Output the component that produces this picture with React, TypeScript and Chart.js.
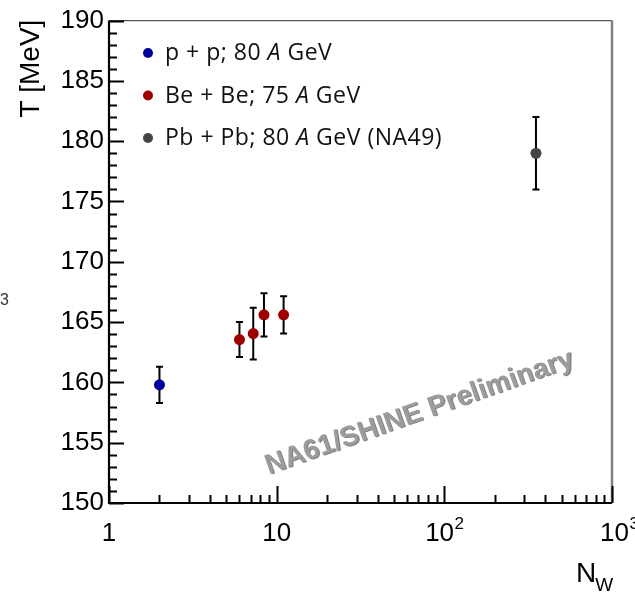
import React, { useEffect, useRef } from 'react';
import { Chart, registerables } from 'chart.js';
Chart.register(...registerables);

// ---- data ----
const ppN = [2.0];
const ppT = [159.8];
const ppErr = [1.5];

const beN = [6.0, 7.25, 8.4, 11.0];
const beT = [163.55, 164.05, 165.6, 165.6];
const beErr = [1.45, 2.15, 1.8, 1.55];

const pbN = [352];
const pbT = [179.0];
const pbErr = [3.0];

const legendLabels = [
  ['p + p; 80 ', 'A', ' GeV'],
  ['Be + Be; 75 ', 'A', ' GeV'],
  ['Pb + Pb; 80 ', 'A', ' GeV (NA49)'],
];
const seriesColors = ['#00009c', '#9e0000', '#454545'];
const xMajorValues = [1, 10, 100, 1000];
const xTickLabels = [['1', ''], ['10', ''], ['10', '2'], ['10', '3']];
const yTitle = 'T [MeV]';
const xTitleMain = 'N';
const xTitleSub = 'W';
const watermark = 'NA61/SHINE Preliminary';
const strayText = '3';

const FONT = '"Liberation Sans", Arial, sans-serif';
const LFONT = '"Open Sans", "Noto Sans", sans-serif';

const decor = {
  id: 'decor',
  beforeDatasetsDraw(chart: any) {
    const ctx = chart.ctx;
    const xs = chart.scales.x;
    const ys = chart.scales.y;
    ctx.save();
    ctx.strokeStyle = '#000';
    ctx.lineWidth = 2;
    chart.data.datasets.forEach((ds: any) => {
      ds.data.forEach((p: any, i: number) => {
        const e = ds.err[i];
        const px = xs.getPixelForValue(p.x);
        const y1 = ys.getPixelForValue(p.y + e);
        const y2 = ys.getPixelForValue(p.y - e);
        ctx.beginPath();
        ctx.moveTo(px, y1);
        ctx.lineTo(px, y2);
        ctx.moveTo(px - 3.5, y1);
        ctx.lineTo(px + 3.5, y1);
        ctx.moveTo(px - 3.5, y2);
        ctx.lineTo(px + 3.5, y2);
        ctx.stroke();
      });
    });
    ctx.restore();
  },
  afterDraw(chart: any) {
    const ctx = chart.ctx;
    const xs = chart.scales.x;
    const ys = chart.scales.y;
    const { left, right, top, bottom } = chart.chartArea;
    ctx.save();

    // frame: top and right in gray
    ctx.strokeStyle = '#555';
    ctx.lineWidth = 1.2;
    ctx.beginPath();
    ctx.moveTo(left, top);
    ctx.lineTo(right, top);
    ctx.stroke();
    ctx.strokeStyle = '#808080';
    ctx.lineWidth = 2.5;
    ctx.beginPath();
    ctx.moveTo(right, top);
    ctx.lineTo(right, bottom);
    ctx.stroke();

    // y ticks (inward)
    ctx.strokeStyle = '#000';
    ctx.lineWidth = 2;
    ctx.beginPath();
    for (let v = ys.min; v <= ys.max; v += 1) {
      const py = Math.round(ys.getPixelForValue(v)) + 0.5;
      const len = v % 5 === 0 ? 15 : 8;
      ctx.moveTo(left, py);
      ctx.lineTo(left + len, py);
    }
    // x ticks (inward)
    for (let d = 1; d < 1000; d *= 10) {
      for (let m = 1; m <= 10; m++) {
        const v = m * d;
        const px = Math.round(xs.getPixelForValue(v)) + 0.5;
        const len = m === 1 || m === 10 ? 17 : 8;
        ctx.moveTo(px, bottom);
        ctx.lineTo(px, bottom - len);
      }
    }
    ctx.stroke();

    // axes lines
    ctx.lineWidth = 2.2;
    ctx.beginPath();
    ctx.moveTo(left, top);
    ctx.lineTo(left, bottom);
    ctx.lineTo(right, bottom);
    ctx.stroke();

    // x tick labels
    ctx.fillStyle = '#000';
    ctx.textBaseline = 'alphabetic';
    xMajorValues.forEach((v, i) => {
      const [main, sup] = xTickLabels[i];
      ctx.font = `26px ${FONT}`;
      const wm = ctx.measureText(main).width;
      ctx.font = `17px ${FONT}`;
      const ws = sup ? ctx.measureText(sup).width : 0;
      const px = xs.getPixelForValue(v);
      let x0 = px - (wm + ws) / 2;
      if (i === xMajorValues.length - 1) x0 = px - 12;
      ctx.font = `26px ${FONT}`;
      ctx.textAlign = 'left';
      ctx.fillText(main, x0, bottom + 38);
      if (sup) {
        ctx.font = `17px ${FONT}`;
        ctx.fillText(sup, x0 + wm + 0.5, bottom + 26);
      }
    });

    // axis titles
    ctx.font = `28px ${FONT}`;
    ctx.textAlign = 'right';
    ctx.save();
    ctx.translate(39, top - 1);
    ctx.rotate(-Math.PI / 2);
    ctx.fillText(yTitle, 0, 0);
    ctx.restore();

    ctx.textAlign = 'left';
    ctx.font = `28px ${FONT}`;
    ctx.fillText(xTitleMain, 576, bottom + 79);
    const wN = ctx.measureText(xTitleMain).width;
    ctx.font = `19px ${FONT}`;
    ctx.fillText(xTitleSub, 576 + wN - 1, bottom + 88);

    // legend
    try { (ctx as any).letterSpacing = '0.5px'; } catch (e) {}
    chart.data.datasets.forEach((ds: any, i: number) => {
      const my = 53 + i * 42.5;
      ctx.fillStyle = ds.backgroundColor;
      ctx.beginPath();
      ctx.arc(148, my, 5, 0, Math.PI * 2);
      ctx.fill();
      ctx.fillStyle = '#111';
      let tx = 165;
      const parts = legendLabels[i];
      parts.forEach((t, k) => {
        ctx.font = k === 1 ? `italic 23px ${LFONT}` : `23px ${LFONT}`;
        ctx.fillText(t, tx, my + 7);
        tx += ctx.measureText(t).width;
      });
    });
    try { (ctx as any).letterSpacing = '0px'; } catch (e) {}

    // watermark
    ctx.save();
    ctx.translate(422, 420);
    ctx.rotate((-19.5 * Math.PI) / 180);
    ctx.font = `bold 28px ${FONT}`;
    ctx.textAlign = 'center';
    ctx.fillStyle = '#808080';
    ctx.fillText(watermark, 1, 1);
    ctx.fillStyle = '#9c9c9c';
    ctx.fillText(watermark, 0, 0);
    ctx.restore();

    // stray label fragment at left edge
    ctx.font = `16px ${FONT}`;
    ctx.fillStyle = '#333';
    ctx.textAlign = 'left';
    ctx.fillText(strayText, 0, 305);

    ctx.restore();
  },
};

export default function App() {
  const ref = useRef<HTMLCanvasElement | null>(null);
  useEffect(() => {
    if (!ref.current) return;
    const mk = (N: number[], T: number[], E: number[], color: string) => ({
      data: N.map((x, i) => ({ x, y: T[i] })),
      err: E,
      backgroundColor: color,
      borderColor: color,
      borderWidth: 0,
      pointRadius: 5.5,
      pointHoverRadius: 5.5,
      showLine: false,
    });
    const chart = new Chart(ref.current, {
      type: 'scatter',
      data: {
        datasets: [
          mk(ppN, ppT, ppErr, seriesColors[0]),
          mk(beN, beT, beErr, seriesColors[1]),
          mk(pbN, pbT, pbErr, seriesColors[2]),
        ] as any,
      },
      options: {
        animation: false,
        responsive: true,
        maintainAspectRatio: false,
        layout: { padding: { top: 19, right: 23, left: 0, bottom: 0 } },
        plugins: { legend: { display: false }, tooltip: { enabled: false } },
        scales: {
          x: {
            type: 'logarithmic',
            min: 1,
            max: 1000,
            grid: { display: false, drawTicks: false },
            border: { display: false },
            ticks: { display: false },
            afterFit: (s: any) => {
              s.height = 96;
            },
          },
          y: {
            type: 'linear',
            min: 150,
            max: 190,
            grid: { display: false, drawTicks: false },
            border: { display: false },
            ticks: {
              stepSize: 5,
              padding: 5,
              color: '#000',
              font: { family: FONT, size: 26 },
            },
            afterFit: (s: any) => {
              s.width = 109;
            },
          },
        },
      } as any,
      plugins: [decor],
    });
    return () => chart.destroy();
  }, []);
  return (
    <div style={{ position: 'absolute', left: 0, top: 0, width: 635, height: 599, background: '#fff' }}>
      <canvas ref={ref} />
    </div>
  );
}
